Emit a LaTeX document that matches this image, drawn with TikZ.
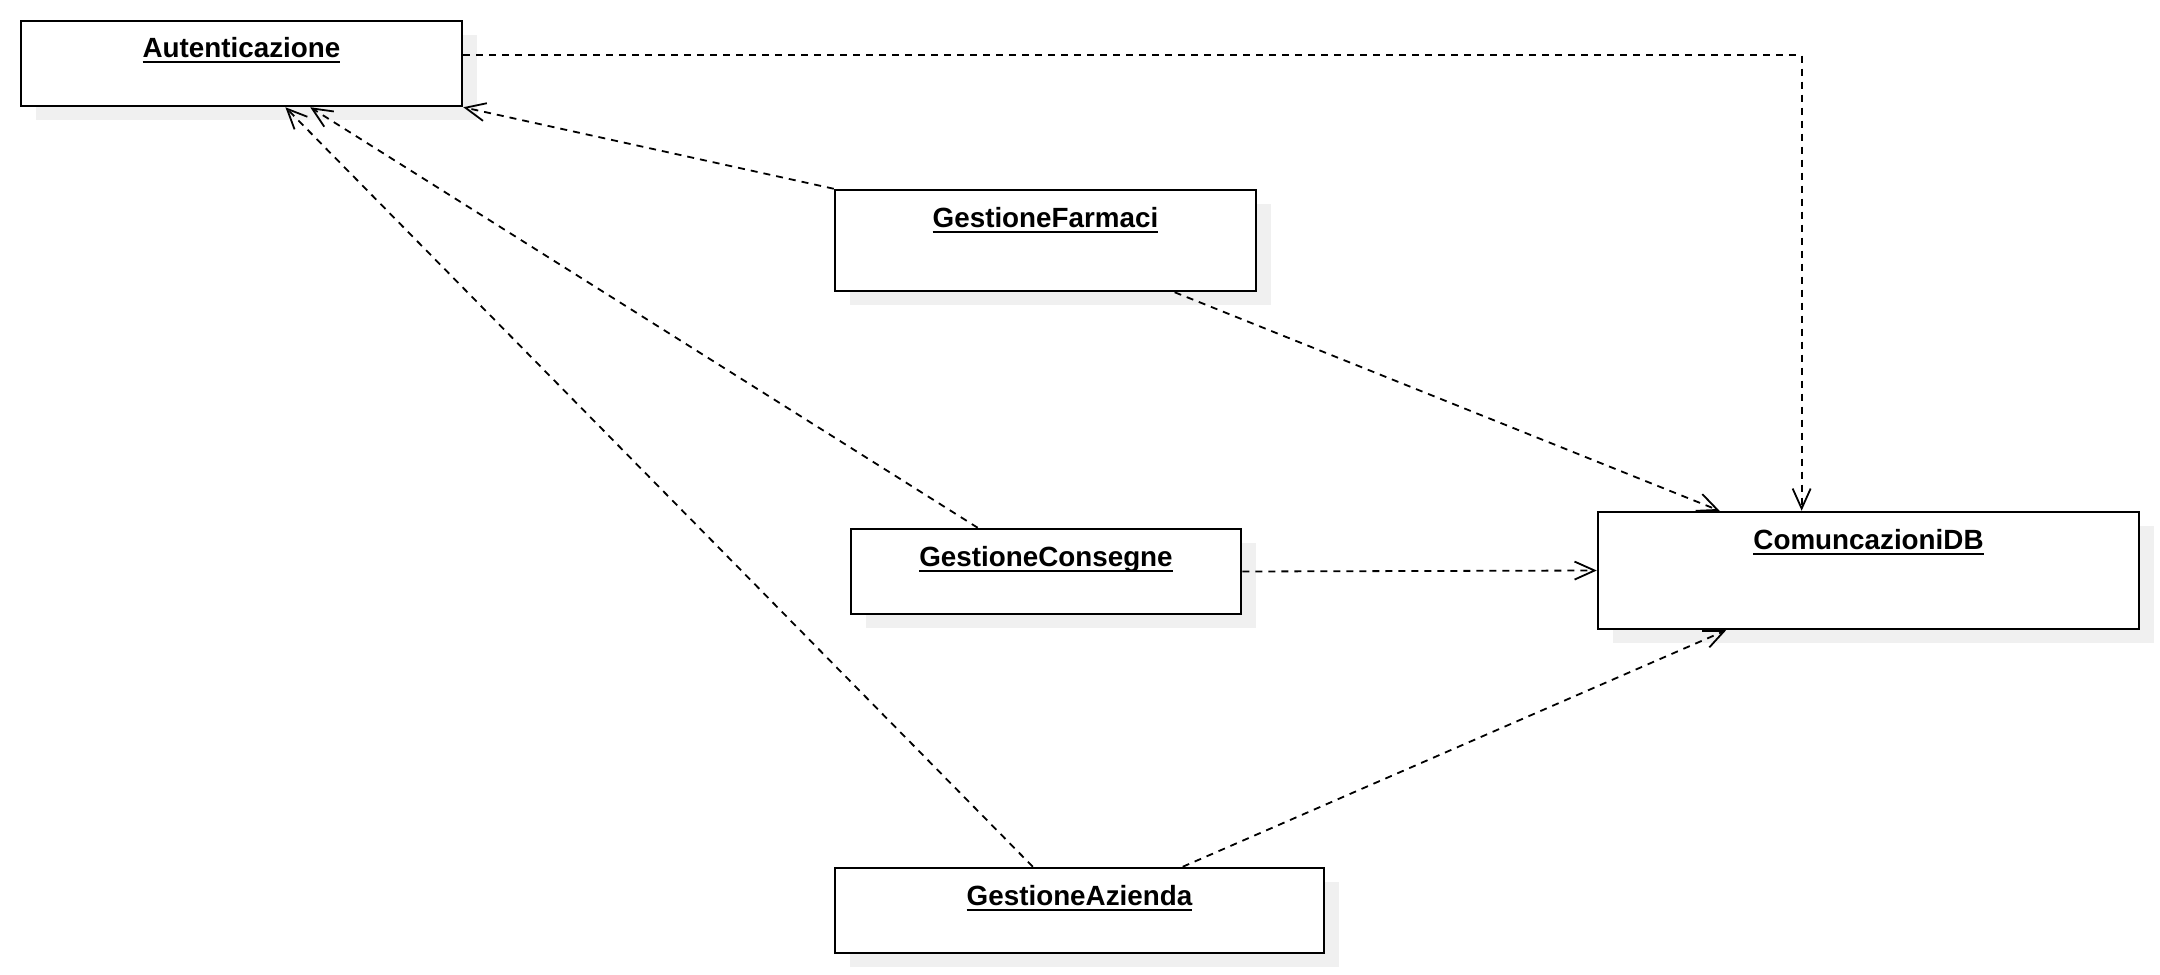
\documentclass[tikz,border=0pt]{standalone}
\usepackage{fontspec}
\setmainfont{Liberation Sans}
\usetikzlibrary{arrows.meta,calc,shadows}
\definecolor{shadowgray}{RGB}{240,240,240}
\newsavebox\namebox
\newcommand{\uname}[1]{\sbox\namebox{#1}\rlap{\rule[-2.5pt]{\wd\namebox}{1pt}}\usebox\namebox}
\tikzset{
  classbox/.style={draw, fill=white, line width=1.25pt, inner sep=0pt,
    general shadow={fill=shadowgray, shadow xshift=7.5pt, shadow yshift=-7pt}},
  classname/.style={anchor=base, font=\bfseries\fontsize{13.9}{16}\selectfont},
  dep/.style={draw, line width=0.9pt, dash pattern=on 3.5pt off 3pt,
    -{Straight Barb[length=10pt, width=9pt, line width=0.9pt]}},
}

\begin{document}
\begin{tikzpicture}[x=0.5pt, y=-0.5pt]
    \useasboundingbox (0,0) rectangle (2160,975);
    \node[classbox, minimum width=220.5pt, minimum height=42.5pt] (aut) at (241.5,63.5) {};
    \node[classbox, minimum width=210.5pt, minimum height=50.5pt] (farm) at (1045.5,240.5) {};
    \node[classbox, minimum width=195pt, minimum height=42.5pt] (cons) at (1046,571.5) {};
    \node[classbox, minimum width=244.5pt, minimum height=42.5pt] (azi) at (1079.5,910.5) {};
    \node[classbox, minimum width=270.5pt, minimum height=58.5pt] (comdb) at (1868.5,570.5) {};
    \node[classname] (autT) at ($(aut.north)+(0,38)$) {\uname{Autenticazione}};
    \node[classname] (farmT) at ($(farm.north)+(0,39)$) {\uname{GestioneFarmaci}};
    \node[classname] (consT) at ($(cons.north)+(0,39)$) {\uname{GestioneConsegne}};
    \node[classname] (aziT) at ($(azi.north)+(0,39)$) {\uname{GestioneAzienda}};
    \node[classname] (comdbT) at ($(comdb.north)+(0,39)$) {\uname{ComuncazioniDB}};
    \draw[dep] ($(azi.north west)!0.405!(azi.north east)$) -- ($(aut.south west)!0.599!(aut.south east)$);
    \draw[dep] ($(cons.north west)!0.326!(cons.north east)$) -- ($(aut.south west)!0.655!(aut.south east)$);
    \draw[dep] (farm.north west) -- (aut.south east);
    \draw[dep] ($(farm.south west)!0.805!(farm.south east)$) -- ($(comdb.north west)!0.226!(comdb.north east)$);
    \draw[dep] (cons.east) -- (comdb.west);
    \draw[dep] ($(azi.north west)!0.71!(azi.north east)$) -- ($(comdb.south west)!0.238!(comdb.south east)$);
    \draw[dep] ($(aut.east)+(0,-8.5)$) -| ($(comdb.north west)!0.377!(comdb.north east)$);
\end{tikzpicture}
\end{document}
